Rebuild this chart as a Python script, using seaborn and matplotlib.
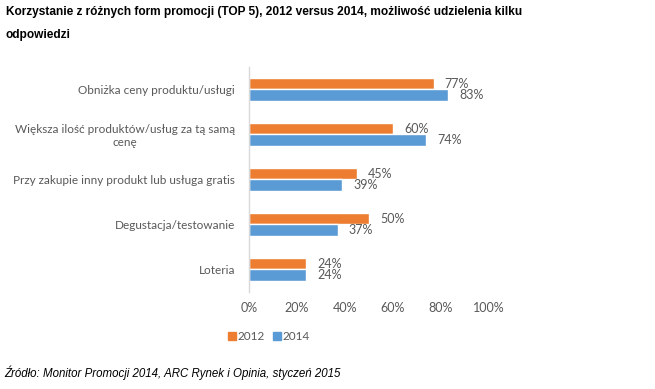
import pandas as pd
import seaborn as sns
import matplotlib.pyplot as plt
from matplotlib.lines import Line2D

categories = [
    "Obniżka ceny produktu/usługi",
    "Większa ilość produktów/usług za tą samą\ncenę",
    "Przy zakupie inny produkt lub usługa gratis",
    "Degustacja/testowanie",
    "Loteria",
]
years = ["2012", "2014"]
values_2012 = [77, 60, 45, 50, 24]
values_2014 = [83, 74, 39, 37, 24]
x_ticks = [0, 20, 40, 60, 80, 100]

colors = {"2012": "#ED7D31", "2014": "#5B9BD5"}
gray = "#595959"

df = pd.DataFrame({
    "cat": categories * 2,
    "year": ["2012"] * 5 + ["2014"] * 5,
    "val": values_2012 + values_2014,
})

sns.set_style("white")
plt.rcParams["font.family"] = ["Lato", "DejaVu Sans"]

fig = plt.figure(figsize=(6.55, 3.89), dpi=100)
ax = fig.add_axes([0.380, 0.2494, 0.3664, 0.5784])

sns.barplot(data=df, y="cat", x="val", hue="year", palette=colors,
            order=categories, hue_order=years, width=0.5, gap=0,
            orient="h", ax=ax, legend=False, saturation=1)

for cont in ax.containers:
    ax.bar_label(cont, labels=[f"{v:.0f}%" for v in cont.datavalues],
                 padding=8, fontsize=9, color=gray)

ax.set_xlim(0, 100)
ax.set_ylim(4.5, -0.5)
ax.set_xticks(x_ticks)
ax.set_xticklabels([f"{t}%" for t in x_ticks], fontsize=9, color=gray)
ax.tick_params(axis="y", labelsize=8.5, labelcolor=gray, length=0, pad=10)
ax.tick_params(axis="x", length=0, pad=7)
for lbl in ax.get_yticklabels():
    lbl.set_horizontalalignment("right")
    lbl.set_multialignment("center")
ax.set_xlabel("")
ax.set_ylabel("")
for s in ["top", "right", "bottom"]:
    ax.spines[s].set_visible(False)
ax.spines["left"].set_color("#D9D9D9")
ax.spines["left"].set_linewidth(1)

handles = [Line2D([], [], marker="s", linestyle="", markersize=6,
                  color=colors[y]) for y in years]
fig.legend(handles, years, loc="center", bbox_to_anchor=(0.41, 0.134),
           ncol=2, frameon=False, fontsize=8.5, labelcolor=gray,
           handletextpad=0.1, columnspacing=0.6, handlelength=0.8)

title_font = ["Liberation Sans", "DejaVu Sans"]
fig.text(0.009, 0.968,
         "Korzystanie z różnych form promocji (TOP 5), 2012 versus 2014, możliwość udzielenia kilku",
         family=title_font, weight="bold",
         fontsize=8.6, va="center", ha="left", color="black")
fig.text(0.009, 0.909, "odpowiedzi",
         family=title_font, weight="bold",
         fontsize=8.6, va="center", ha="left", color="black")
fig.text(0.007, 0.041, "Źródło: Monitor Promocji 2014, ARC Rynek i Opinia, styczeń 2015",
         family=title_font, style="italic",
         fontsize=8.3, va="center", ha="left", color="black")

fig.savefig("out.png", dpi=100)
